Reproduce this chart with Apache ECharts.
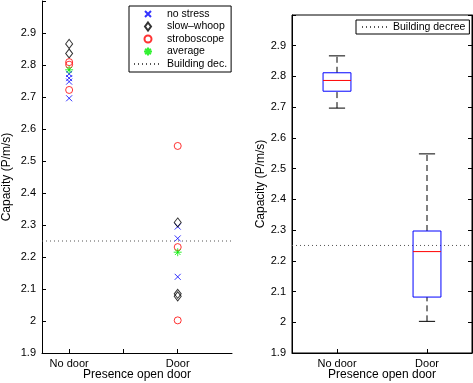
<!DOCTYPE html>
<html>
<head>
<meta charset="utf-8">
<script src="https://cdn.jsdelivr.net/npm/echarts@6/dist/echarts.min.js"></script>
<style>
  html, body { margin: 0; padding: 0; background: #fff; }
  #main { width: 473px; height: 383px; }
</style>
</head>
<body>
<div id="main"></div>
<script>
// category positions 1 = No door, 2 = Door
var categories = ['No door', 'Door'];

// individual measurements
var noStressNoDoor = [2.772, 2.759, 2.748, 2.696];
var noStressDoor = [2.295, 2.258, 2.138];
var slowWhoopNoDoor = [2.866, 2.836];
var slowWhoopDoor = [2.308, 2.085, 2.077];
var stroboNoDoor = [2.809, 2.801, 2.722];
var stroboDoor = [2.547, 2.231, 2.002];
var averageVals = [2.785, 2.215];
var buildingDecree = 2.25;

// box plot stats per category
var boxMin = [2.697, 2.003];
var boxQ1 = [2.752, 2.082];
var boxMedian = [2.787, 2.230];
var boxQ3 = [2.812, 2.297];
var boxMax = [2.867, 2.548];

var FONT = '"Liberation Sans", Arial, Helvetica, sans-serif';

function pts(noDoor, door) {
    var out = [];
    noDoor.forEach(function (v) { out.push([1, v]); });
    door.forEach(function (v) { out.push([2, v]); });
    return out;
}

function fmtY(v) {
    if (v > 2.95) return '';
    return String(parseFloat(v.toFixed(1)));
}

function yAxisCfg(gridIndex, gap) {
    return {
        type: 'value', gridIndex: gridIndex, min: 1.9, max: 3.0, interval: 0.1,
        name: 'Capacity (P/m/s)', nameLocation: 'middle', nameGap: gap, nameMoveOverlap: false,
        nameTextStyle: { fontFamily: FONT, fontSize: 12, color: '#000' },
        axisLine: { show: true, lineStyle: { color: '#000', width: 1 } },
        axisTick: { show: true, inside: true, length: 4, lineStyle: { color: '#000' } },
        axisLabel: { fontFamily: FONT, fontSize: 11, color: '#000', margin: 6, formatter: fmtY },
        splitLine: { show: false }
    };
}

function xAxisCfg(gridIndex, min, max, ticks) {
    return {
        type: 'value', gridIndex: gridIndex, min: min, max: max,
        name: 'Presence open door', nameLocation: 'middle', nameGap: 16, nameMoveOverlap: false,
        nameTextStyle: { fontFamily: FONT, fontSize: 12, color: '#000' },
        axisLine: { show: true, onZero: false, lineStyle: { color: '#000', width: 1 } },
        axisTick: { show: true, inside: true, length: 4, customValues: ticks, lineStyle: { color: '#000' } },
        axisLabel: {
            fontFamily: FONT, fontSize: 11, color: '#000', margin: 5, customValues: [1, 2],
            formatter: function (v) { return categories[Math.round(v) - 1]; }
        },
        splitLine: { show: false }
    };
}

var crossPath = 'path://M0,0L10,10M0,10L10,0';
var starPath = 'path://M5,0L5,10M0,5L10,5M1.5,1.5L8.5,8.5M8.5,1.5L1.5,8.5';

// legend icons: a 28x9 box (corner moveTo's) with the marker drawn in the middle
var PAD = 'M0,0M28,9';
var legCross = 'path://' + PAD + 'M11,1.5L17,7.5M11,7.5L17,1.5';
var legDiamond = 'path://' + PAD + 'M14,0.5L17,4.5L14,8.5L11,4.5Z';
var legCircle = 'path://' + PAD + 'M17.5,4.5A3.5,3.5,0,1,1,10.5,4.5A3.5,3.5,0,1,1,17.5,4.5Z';
var legStar = 'path://' + PAD + 'M14,0.5L14,8.5M10,4.5L18,4.5M11.2,1.7L16.8,7.3M16.8,1.7L11.2,7.3';

function scatter(name, data, symbol, size, color) {
    return {
        name: name, type: 'scatter', xAxisIndex: 0, yAxisIndex: 0,
        data: data, symbol: symbol, symbolSize: size,
        itemStyle: { color: 'rgba(0,0,0,0)', borderColor: color, borderWidth: 1 },
        emphasis: { disabled: true }
    };
}

var boxData = categories.map(function (c, i) {
    return [i + 1, boxMin[i], boxQ1[i], boxMedian[i], boxQ3[i], boxMax[i]];
});

function renderBox(params, api) {
    var x = api.value(0);
    var halfBox = 0.155, halfCap = 0.09;
    var pMin = api.coord([x, api.value(1)]);
    var pQ1 = api.coord([x, api.value(2)]);
    var pMed = api.coord([x, api.value(3)]);
    var pQ3 = api.coord([x, api.value(4)]);
    var pMax = api.coord([x, api.value(5)]);
    var bl = api.coord([x - halfBox, 0])[0];
    var br = api.coord([x + halfBox, 0])[0];
    var cl = api.coord([x - halfCap, 0])[0];
    var cr = api.coord([x + halfCap, 0])[0];
    var whisk = { stroke: '#000', lineWidth: 1, lineDash: [6, 4] };
    var solid = { stroke: '#000', lineWidth: 1 };
    return {
        type: 'group',
        children: [
            { type: 'line', shape: { x1: pQ3[0], y1: pQ3[1], x2: pMax[0], y2: pMax[1] }, style: whisk },
            { type: 'line', shape: { x1: pMin[0], y1: pMin[1], x2: pQ1[0], y2: pQ1[1] }, style: whisk },
            { type: 'line', shape: { x1: cl, y1: pMax[1], x2: cr, y2: pMax[1] }, style: solid },
            { type: 'line', shape: { x1: cl, y1: pMin[1], x2: cr, y2: pMin[1] }, style: solid },
            { type: 'rect', shape: { x: bl, y: pQ3[1], width: br - bl, height: pQ1[1] - pQ3[1] },
              style: { fill: 'none', stroke: '#0000ff', lineWidth: 1 } },
            { type: 'line', shape: { x1: bl, y1: pMed[1], x2: br, y2: pMed[1] },
              style: { stroke: '#ff0000', lineWidth: 1 } }
        ]
    };
}

var chart = echarts.init(document.getElementById('main'));

var legendText = { fontFamily: FONT, fontSize: 10.5, color: '#000', lineHeight: 12 };

function decreeLine(name, xi, x0, x1) {
    return {
        name: name, type: 'line', xAxisIndex: xi, yAxisIndex: xi,
        data: [[x0, buildingDecree], [x1, buildingDecree]], symbol: 'none',
        lineStyle: { color: '#555', width: 1, type: [1, 3] },
        itemStyle: { color: 'rgba(0,0,0,0)', borderWidth: 0 }, z: 1
    };
}

chart.setOption({
    animation: false,
    backgroundColor: '#fff',
    grid: [
        { left: 42, top: 1, width: 190, height: 352, outerBoundsMode: 'none' },
        { left: 292, top: 15, width: 180, height: 338, outerBoundsMode: 'none',
          show: true, borderColor: '#000', borderWidth: 1, backgroundColor: 'rgba(0,0,0,0)' }
    ],
    xAxis: [
        xAxisCfg(0, 0.75, 2.5, [1, 1.5, 2]),
        xAxisCfg(1, 0.5, 2.5, [1, 2])
    ],
    yAxis: [
        yAxisCfg(0, 29),
        yAxisCfg(1, 25),
        {
            type: 'value', gridIndex: 1, position: 'right', min: 1.9, max: 3.0, interval: 0.1,
            axisLine: { show: true, lineStyle: { color: '#000' } },
            axisTick: { show: true, inside: true, length: 4, lineStyle: { color: '#000' } },
            axisLabel: { show: false }, splitLine: { show: false }
        }
    ],
    legend: [
        {
            orient: 'vertical', left: 129, top: 6,
            padding: [2, 4, 2, 4], itemGap: 0.5, itemWidth: 28, itemHeight: 9,
            backgroundColor: '#fff', borderColor: '#000', borderWidth: 1,
            textStyle: legendText, selectedMode: false,
            data: [
                { name: 'no stress', icon: legCross },
                { name: 'slow\u2013whoop', icon: legDiamond },
                { name: 'stroboscope', icon: legCircle },
                { name: 'average', icon: legStar },
                { name: 'Building dec.' }
            ]
        },
        {
            orient: 'horizontal', left: 356, top: 20,
            padding: [1, 4, 1, 5], itemWidth: 26, itemHeight: 9,
            backgroundColor: '#fff', borderColor: '#000', borderWidth: 1,
            textStyle: legendText, selectedMode: false,
            data: ['Building decree']
        }
    ],
    series: [
        decreeLine('Building dec.', 0, 0.75, 2.5),
        scatter('no stress', pts(noStressNoDoor, noStressDoor), crossPath, 6, '#0000ff'),
        scatter('slow\u2013whoop', pts(slowWhoopNoDoor, slowWhoopDoor), 'diamond', [7, 9], '#000000'),
        scatter('stroboscope', pts(stroboNoDoor, stroboDoor), 'circle', 7, '#ff0000'),
        scatter('average', [[1, averageVals[0]], [2, averageVals[1]]], starPath, 8, '#00ee00'),
        decreeLine('Building decree', 1, 0.5, 2.5),
        {
            name: 'box', type: 'custom', xAxisIndex: 1, yAxisIndex: 1,
            data: boxData, renderItem: renderBox, z: 3,
            encode: { x: 0, y: [1, 2, 3, 4, 5] }
        }
    ]
});
</script>
</body>
</html>
